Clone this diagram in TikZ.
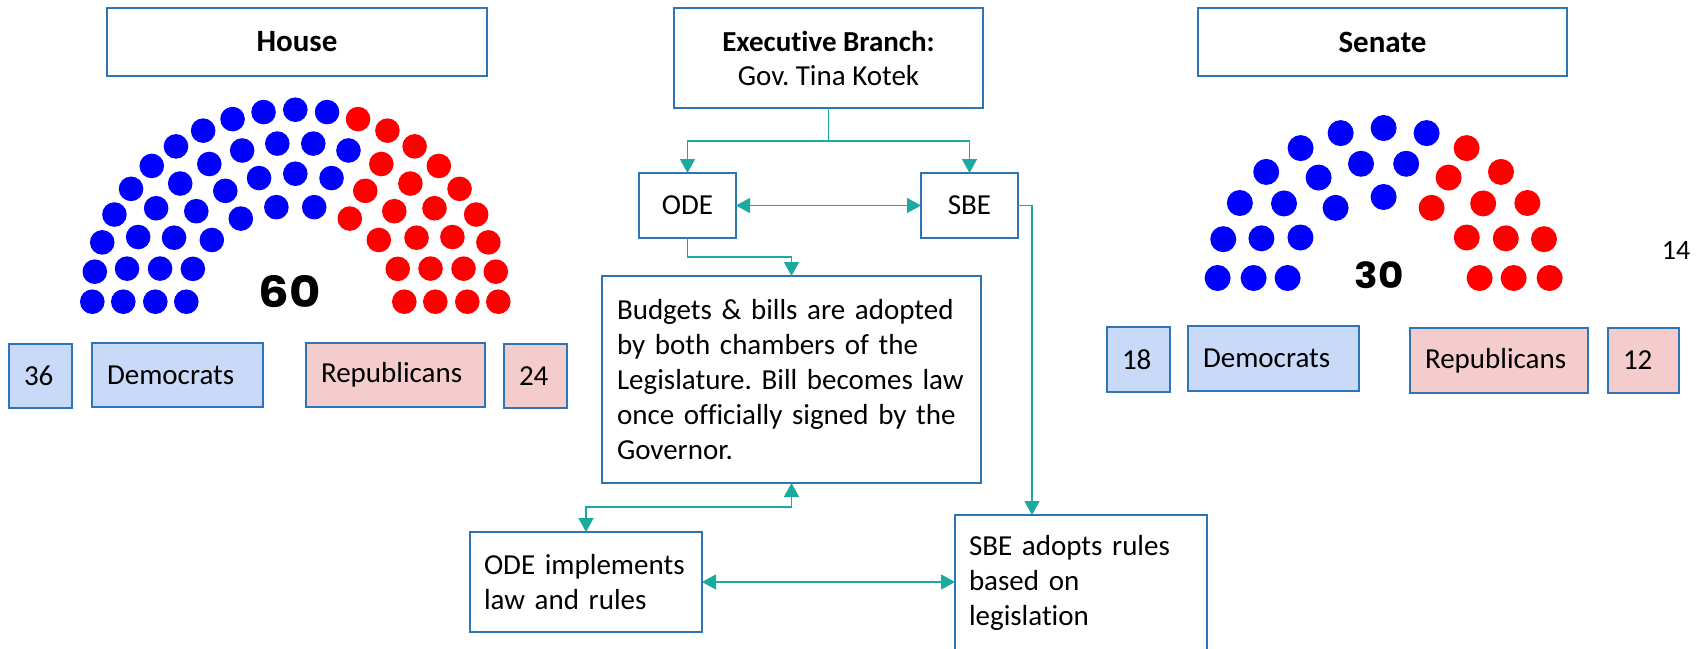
\documentclass[tikz,border=0pt]{standalone}
\usepackage{fontspec}
\setmainfont{Carlito}[Ligatures=NoCommon]
\newfontfamily\seatfont{Poppins}
\usetikzlibrary{arrows.meta}
\definecolor{bordc}{RGB}{46,117,182}
\definecolor{conc}{RGB}{26,170,160}
\definecolor{demf}{RGB}{201,218,248}
\definecolor{repf}{RGB}{244,204,204}
\definecolor{seatb}{RGB}{0,0,255}
\definecolor{seatr}{RGB}{255,0,0}
\frenchspacing
\begin{document}
\begin{tikzpicture}[x=1pt,y=-1pt,
  bx/.style={draw=bordc, line width=2pt, inner sep=0pt, outer sep=0pt, font=\fontsize{29}{35}\selectfont},
  lbx/.style={bx, inner xsep=15pt, align=left},
  hdr/.style={bx, align=center, font=\fontsize{31}{36}\selectfont\bfseries},
  dem/.style={lbx, fill=demf},
  rep/.style={lbx, fill=repf},
  conn/.style={draw=conc, line width=1.5pt},
  >={Triangle[width=15pt,length=14pt]},
  seatnum/.style={inner sep=0pt, font=\seatfont\bfseries}
]
\fill[white] (0,0) rectangle (1707,648);
\useasboundingbox (0,0) rectangle (1707,648);

% ---------- House ----------
\node[hdr, minimum width=380pt, minimum height=68pt] (house) at (297,42) {House};
\foreach \n/\rx/\ry/\nb in {10/109/96/6,13/140/128/8,16/172/159/10,21/203/192/12}{
  \foreach \i in {1,...,\n}{
    \ifnum\i>\nb\def\seatcol{seatr}\else\def\seatcol{seatb}\fi
    \fill[\seatcol] ({295.3+\rx*cos(180-(\i-1)*180/(\n-1))},{301.7-\ry*sin(180-(\i-1)*180/(\n-1))}) circle[radius=12.3pt];
  }
}
\node[seatnum, font=\seatfont\bfseries\fontsize{43}{43}\selectfont] (hnum) at (290,292) {\scalebox{1.12}[1]{60}};
\node[dem, minimum width=63pt, minimum height=64pt, text width=33pt] (h36) at (40.5,376) {36};
\node[dem, minimum width=171pt, minimum height=64pt, text width=141pt] (hdem) at (177.5,375) {Democrats};
\node[rep, minimum width=179pt, minimum height=64pt, text width=149pt] (hrep) at (395.5,375) {Republicans};
\node[rep, minimum width=63pt, minimum height=64pt, text width=33pt] (h24) at (535.5,376) {24};

% ---------- Senate ----------
\node[hdr, minimum width=369pt, minimum height=68pt] (senate) at (1382.5,42) {Senate};
\foreach \n/\rx/\ry/\nb in {7/96/81/4,10/130/116/6,13/166/150/8}{
  \foreach \i in {1,...,\n}{
    \ifnum\i>\nb\def\seatcol{seatr}\else\def\seatcol{seatb}\fi
    \fill[\seatcol] ({1383.6+\rx*cos(180-(\i-1)*180/(\n-1))},{278-\ry*sin(180-(\i-1)*180/(\n-1))}) circle[radius=13pt];
  }
}
\node[seatnum, font=\seatfont\bfseries\fontsize{36}{36}\selectfont] (snum) at (1379,275) {\scalebox{1.08}[1]{30}};
\node[dem, minimum width=63pt, minimum height=65pt, text width=33pt] (s18) at (1138.5,359.5) {18};
\node[dem, minimum width=171pt, minimum height=65pt, text width=141pt] (sdem) at (1273.5,358.5) {Democrats};
\node[rep, minimum width=178pt, minimum height=65pt, text width=148pt] (srep) at (1499,360.5) {Republicans};
\node[rep, minimum width=71pt, minimum height=65pt, text width=41pt] (s12) at (1643.5,360.5) {12};
\node[inner sep=0pt, font=\fontsize{28}{32}\selectfont] (fourteen) at (1676,250) {14};

% ---------- Executive ----------
\node[bx, align=center, font=\fontsize{29}{34}\selectfont, minimum width=309pt, minimum height=100pt] (exec) at (828.5,58)
  {\textbf{Executive Branch:}\\Gov. Tina Kotek};
\node[bx, minimum width=97pt, minimum height=65pt] (ode) at (687.5,205.5) {ODE};
\node[bx, minimum width=97pt, minimum height=65pt] (sbe) at (969.5,205.5) {SBE};
\node[lbx, inner xsep=15pt, minimum width=379pt, minimum height=207pt, text width=349pt] (budget) at (791.5,379.5)
  {\mbox{Budgets \& bills are adopted}\\\mbox{by both chambers of the}\\\mbox{Legislature. Bill becomes law}\\\mbox{once officially signed by the}\\\mbox{Governor.}};
\node[lbx, inner xsep=14pt, minimum width=232pt, minimum height=100pt, text width=204pt] (odei) at (586,582)
  {ODE implements\\law and rules};
\node[lbx, inner xsep=14pt, minimum width=252pt, minimum height=136pt, text width=224pt] (sbead) at (1081,583)
  {SBE adopts rules\\based on\\legislation};

% ---------- Connectors ----------
\draw[conn,->] (exec.south) -- ++(0,33) -| (ode.north);
\draw[conn,->] (exec.south) -- ++(0,33) -| (sbe.north);
\draw[conn,<->] (ode.east) -- (sbe.west);
\draw[conn,->] (ode.south) -- ++(0,19) -| (budget.north);
\draw[conn,<->] (budget.south) -- ++(0,24) -| (odei.north);
\draw[conn,<->] (odei.east) -- (odei.east -| sbead.west);
\draw[conn,->] (sbe.east) -| ([xshift=-49pt]sbead.north);
\end{tikzpicture}
\end{document}
